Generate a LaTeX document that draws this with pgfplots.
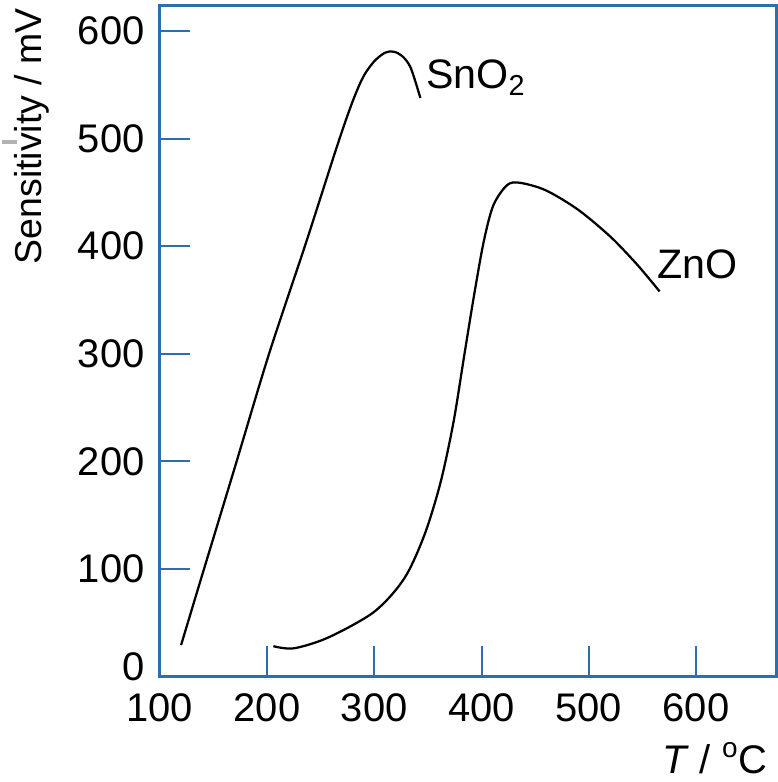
\documentclass[border=0pt]{standalone}
\usepackage{fontspec}
\setmainfont{Liberation Sans}
\usepackage{pgfplots}
\pgfplotsset{compat=1.18}
\definecolor{axblue}{RGB}{45,110,175}

\begin{document}
\begin{tikzpicture}
\begin{axis}[
    scale only axis,
    width=247.2pt, height=268.8pt,
    xmin=100, xmax=675, ymin=0, ymax=624,
    xtick={200,300,400,500,600},
    extra x ticks={100}, extra x tick style={major tick length=0pt},
    ytick={100,200,300,400,500,600},
    extra y ticks={0}, extra y tick style={major tick length=0pt, yticklabel style={yshift=4pt}},
    tick align=inside, xtick pos=left, ytick pos=left,
    major tick length=12pt,
    tick style={axblue, line width=0.8pt},
    axis line style={axblue, line width=1pt},
    tick label style={font=\fontsize{16}{19}\selectfont},
    /pgf/number format/assume math mode=true,
    xticklabel style={yshift=-3.5pt},
    yticklabel style={xshift=-2.5pt},
    ylabel={Sensitivity / mV},
    ylabel style={font=\fontsize{15}{18}\selectfont, at={(axis description cs:-0.207,0.805)}, anchor=center},
    xlabel={\textit{T} / \textsuperscript{o}C},
    xlabel style={font=\fontsize{16}{19}\selectfont, at={(axis description cs:1,0)}, anchor=east, yshift=-32.8pt},
    clip=false,
]
\addplot[black, line width=0.9pt, smooth, tension=0.5] coordinates {
    (120,29) (139,92) (170,194) (202,300) (236,402) (266,495) (280,535) (290,558) (300,572) (310,580) (318,581) (326,577) (334,566) (343,538)
};
\addplot[black, line width=0.9pt, smooth, tension=0.5] coordinates {
    (206,28) (225,26) (257,36) (300,60) (328,91) (347,132) (362,181) (374,237) (384,299) (393,354)
    (402,404) (411,438) (424,457) (436,459) (460,452) (490,434) (520,409) (545,383) (566,358)
};
\node[font=\fontsize{16.5}{19}\selectfont] at (axis cs:395,557) {SnO\textsubscript{2}};
\node[font=\fontsize{16.5}{19}\selectfont] at (axis cs:601,383) {ZnO};
\draw[gray!60, line width=1.5pt] (axis description cs:-0.2557,0.796) -- (axis description cs:-0.231,0.796);
\end{axis}
\end{tikzpicture}
\end{document}
